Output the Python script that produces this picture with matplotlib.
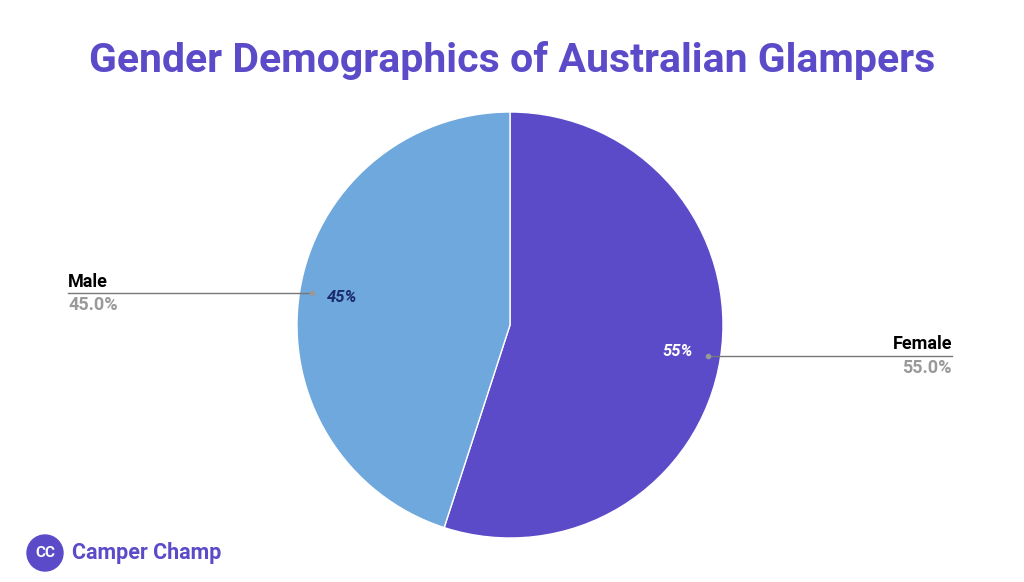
import matplotlib.pyplot as plt
from matplotlib.patches import Circle

labels = ['Female', 'Male']
values = [55.0, 45.0]
colors = ['#5b4bc9', '#6fa8dc']

H = 582
fig = plt.figure(figsize=(10.24, 5.82), dpi=100)
ax = fig.add_axes([0, 0, 1, 1])

cx, cy, r = 510, H - 325, 213
ax.pie(values, colors=colors, startangle=90, counterclock=False,
       center=(cx, cy), radius=r, frame=True,
       wedgeprops=dict(edgecolor='white', linewidth=1))
ax.set_xlim(0, 1024)
ax.set_ylim(0, H)
ax.set_aspect('equal')
ax.axis('off')

font = 'Roboto'
ax.text(512, H - 60, 'Gender Demographics of Australian Glampers', ha='center', va='center',
        fontsize=29.5, fontweight='bold', color='#5b4bc9', family=font)

# Male
ax.plot([68, 312], [H - 293, H - 293], color='#777777', lw=1)
ax.plot(312, H - 293, 'o', color='#999999', ms=3)
ax.text(68, H - 282, labels[1], fontsize=13, fontweight='bold', family=font, va='center')
ax.text(68, H - 305, f'{values[1]:.1f}%', fontsize=13, fontweight='bold', color='#999999',
        family=font, va='center')
ax.text(342, H - 298, f'{values[1]:.0f}%', fontsize=12, fontweight='bold', style='italic',
        color='#1a2a6c', family=font, ha='center', va='center')

# Female
ax.plot([708, 952], [H - 356, H - 356], color='#777777', lw=1)
ax.plot(708, H - 356, 'o', color='#999999', ms=3)
ax.text(952, H - 344, labels[0], fontsize=13, fontweight='bold', family=font, ha='right', va='center')
ax.text(952, H - 368, f'{values[0]:.1f}%', fontsize=13, fontweight='bold', color='#999999',
        family=font, ha='right', va='center')
ax.text(678, H - 352, f'{values[0]:.0f}%', fontsize=12, fontweight='bold', style='italic',
        color='white', family=font, ha='center', va='center')

# logo
ax.add_patch(Circle((45, H - 553), 18, color='#5b4bc9'))
ax.text(45, H - 553, 'CC', color='white', fontsize=11, fontweight='bold', family=font,
        ha='center', va='center')
ax.text(72, H - 553, 'Camper Champ', color='#5b4bc9', fontsize=15.5, fontweight='bold',
        family=font, va='center')

fig.savefig('out.png', dpi=100)
